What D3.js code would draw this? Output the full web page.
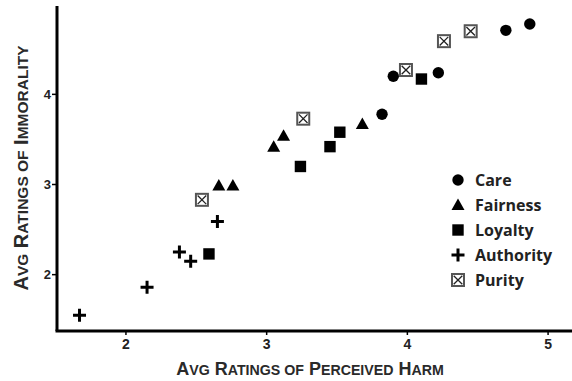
<!DOCTYPE html>
<html>
<head>
<meta charset="utf-8">
<script src="https://cdn.jsdelivr.net/npm/d3@7/dist/d3.min.js"></script>
<style>
  html, body { margin: 0; padding: 0; background: #fff; }
  svg { display: block; }
</style>
</head>
<body>
<div id="chart"></div>
<script>
// values
const careX = [3.90, 4.22, 4.70, 4.87, 3.82];
const careY = [4.20, 4.24, 4.71, 4.78, 3.78];
const fairnessX = [2.66, 2.76, 3.05, 3.12, 3.68];
const fairnessY = [2.99, 2.99, 3.42, 3.54, 3.67];
const loyaltyX = [2.59, 3.24, 3.45, 3.52, 4.10];
const loyaltyY = [2.23, 3.20, 3.42, 3.58, 4.17];
const authorityX = [1.67, 2.15, 2.38, 2.46, 2.65];
const authorityY = [1.55, 1.86, 2.25, 2.15, 2.59];
const purityX = [2.54, 3.26, 3.99, 4.26, 4.45];
const purityY = [2.83, 3.73, 4.27, 4.59, 4.70];

const categories = ['Care', 'Fairness', 'Loyalty', 'Authority', 'Purity'];
const xTicks = [2, 3, 4, 5];
const yTicks = [2, 3, 4];

const width = 572, height = 381;
const margin = {top: 6, right: 0, bottom: 50, left: 57};

const svg = d3.select('#chart').append('svg')
  .attr('width', width)
  .attr('height', height);

const x = d3.scaleLinear().domain([1.51, 5.17]).range([margin.left, width - margin.right]);
const y = d3.scaleLinear().domain([1.375, 4.98]).range([height - margin.bottom, margin.top]);

const series = [
  {name: 'Care', xs: careX, ys: careY, shape: 'circle'},
  {name: 'Fairness', xs: fairnessX, ys: fairnessY, shape: 'triangle'},
  {name: 'Loyalty', xs: loyaltyX, ys: loyaltyY, shape: 'square'},
  {name: 'Authority', xs: authorityX, ys: authorityY, shape: 'plus'},
  {name: 'Purity', xs: purityX, ys: purityY, shape: 'xbox'}
];

function drawMarker(g, shape) {
  if (shape === 'circle') {
    g.append('circle').attr('r', 5.7).attr('fill', '#000');
  } else if (shape === 'triangle') {
    g.append('path').attr('d', 'M0,-6.5L6.5,5L-6.5,5Z').attr('fill', '#000');
  } else if (shape === 'square') {
    g.append('rect').attr('x', -5.7).attr('y', -5.7).attr('width', 11.4).attr('height', 11.4).attr('fill', '#000');
  } else if (shape === 'plus') {
    g.append('path').attr('d', 'M-6.5,0H6.5M0,-6.5V6.5')
      .attr('stroke', '#000').attr('stroke-width', 3).attr('fill', 'none');
  } else if (shape === 'xbox') {
    g.append('rect').attr('x', -6).attr('y', -6).attr('width', 12).attr('height', 12)
      .attr('fill', '#fff').attr('stroke', '#555').attr('stroke-width', 2);
    g.append('path').attr('d', 'M-4.3,-4.3L4.3,4.3M4.3,-4.3L-4.3,4.3')
      .attr('stroke', '#222').attr('stroke-width', 1.3).attr('fill', 'none');
  }
}

// axes
const xAxisY = y.range()[0];
svg.append('line')
  .attr('x1', margin.left - 1.5).attr('x2', width)
  .attr('y1', xAxisY).attr('y2', xAxisY)
  .attr('stroke', '#000').attr('stroke-width', 3);
svg.append('line')
  .attr('x1', margin.left).attr('x2', margin.left)
  .attr('y1', margin.top).attr('y2', xAxisY)
  .attr('stroke', '#000').attr('stroke-width', 3);

xTicks.forEach(t => {
  svg.append('line')
    .attr('x1', x(t)).attr('x2', x(t))
    .attr('y1', xAxisY).attr('y2', xAxisY + 4)
    .attr('stroke', '#000').attr('stroke-width', 1.5);
  svg.append('text')
    .attr('x', x(t)).attr('y', xAxisY + 18)
    .attr('text-anchor', 'middle')
    .style('font-family', 'Liberation Sans, Arial, sans-serif')
    .style('font-weight', 'bold').style('font-size', '14px').style('fill', '#222')
    .text(t);
});

yTicks.forEach(t => {
  svg.append('line')
    .attr('x1', margin.left - 5).attr('x2', margin.left)
    .attr('y1', y(t)).attr('y2', y(t))
    .attr('stroke', '#000').attr('stroke-width', 1.5);
  svg.append('text')
    .attr('x', margin.left - 6).attr('y', y(t) + 4.5)
    .attr('text-anchor', 'end')
    .style('font-family', 'Liberation Sans, Arial, sans-serif')
    .style('font-weight', 'bold').style('font-size', '13px').style('fill', '#222')
    .text(t);
});

// small caps titles
function smallCaps(text, words, big, small) {
  words.forEach((w, i) => {
    const lower = w === 'of';
    const first = w[0].toUpperCase();
    const rest = w.slice(1).toUpperCase();
    text.append('tspan')
      .style('font-size', (lower ? small : big) + 'px')
      .text((i > 0 ? ' ' : '') + first);
    text.append('tspan')
      .style('font-size', small + 'px')
      .text(rest);
  });
}

const xTitle = svg.append('text')
  .attr('x', 310).attr('y', 375)
  .attr('text-anchor', 'middle')
  .style('font-family', 'Liberation Sans, Arial, sans-serif')
  .style('font-weight', 'bold').style('fill', '#2a2a2a');
smallCaps(xTitle, ['Avg', 'Ratings', 'of', 'Perceived', 'Harm'], 18, 14.2);

const yTitle = svg.append('text')
  .attr('transform', 'translate(28,168) rotate(-90)')
  .attr('text-anchor', 'middle')
  .style('font-family', 'Liberation Sans, Arial, sans-serif')
  .style('font-weight', 'bold').style('fill', '#2a2a2a');
smallCaps(yTitle, ['Avg', 'Ratings', 'of', 'Immorality'], 20, 15.5);

// points
series.forEach(s => {
  s.xs.forEach((v, i) => {
    const g = svg.append('g').attr('transform', `translate(${x(v)},${y(s.ys[i])})`);
    drawMarker(g, s.shape);
  });
});

// legend
const legend = svg.append('g').attr('transform', 'translate(458,180)');
series.forEach((s, i) => {
  const row = legend.append('g').attr('transform', `translate(0,${i * 25})`);
  drawMarker(row, s.shape);
  row.append('text')
    .attr('x', 17).attr('y', 6)
    .style('font-family', 'Open Sans, sans-serif')
    .style('font-weight', 'bold').style('font-size', '16px').style('fill', '#222')
    .text(categories[i]);
});
</script>
</body>
</html>
